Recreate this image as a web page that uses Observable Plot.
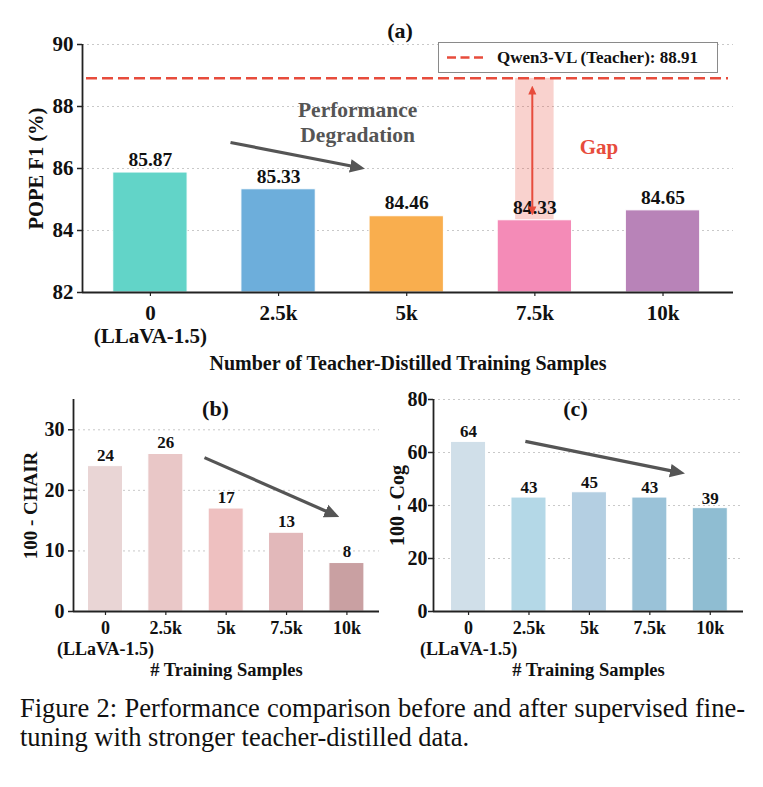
<!DOCTYPE html>
<html>
<head>
<meta charset="utf-8">
<script src="https://cdn.jsdelivr.net/npm/d3@7"></script>
<script src="https://cdn.jsdelivr.net/npm/@observablehq/plot@0.6"></script>
<style>
  html, body { margin: 0; padding: 0; background: #fff; }
  #root { position: relative; width: 763px; height: 787px; overflow: hidden; font-family: "Liberation Serif", "Times New Roman", serif; }
  .panel { position: absolute; }
  .legend { position: absolute; left: 438px; top: 42px; width: 280px; height: 31px; box-sizing: border-box; border: 1.3px solid #8a8a8a; background: #fff; }
  .legend svg { position: absolute; left: 7px; top: 0; }
  .legend span { position: absolute; left: 58px; top: 0; line-height: 29px; font-weight: bold; font-size: 17px; color: #111; white-space: nowrap; }
  .caption { position: absolute; left: 20px; top: 694px; width: 725px; font-size: 26.5px; line-height: 29px; color: #111; }
  .caption .l1 { text-align: justify; text-align-last: justify; white-space: nowrap; }
</style>
</head>
<body>
<div id="root"></div>
<script>
// ---------- data ----------
const categories = ["0", "2.5k", "5k", "7.5k", "10k"];
const tickLabels = ["0\n(LLaVA-1.5)", "2.5k", "5k", "7.5k", "10k"];
const popeF1 = [85.87, 85.33, 84.46, 84.33, 84.65];
const popeColors = ["#62d4c8", "#6daedb", "#f9ae4e", "#f48bb7", "#b883b8"];
const teacherF1 = 88.91;
const teacherLabel = "Qwen3-VL (Teacher): 88.91";
const chair = [24, 26, 17, 13, 8];
const chairColors = ["#e9d5d5", "#e9c7c7", "#eec0c0", "#e2b8ba", "#c9a0a2"];
const cog = [64, 43, 45, 43, 39];
const cogColors = ["#d0dfe9", "#b4d8e7", "#b4cfe2", "#9ac2d8", "#8fbdd2"];
const popeTicks = [82, 84, 86, 88, 90];
const chairTicks = [0, 10, 20, 30];
const cogTicks = [0, 20, 40, 60, 80];
const captionLines = [
  "Figure 2: Performance comparison before and after supervised fine-",
  "tuning with stronger teacher-distilled data."
];

// ---------- helpers ----------
const idx = d3.range(categories.length);
const half = 0.29;
const font = '"Liberation Serif", "Times New Roman", serif';
const RED = "#e74c3c";
const GRAY = "#555555";

function triMarker(size) {
  return (color) => d3.create("svg:marker")
    .attr("viewBox", "-5 -5 10 10")
    .attr("markerUnits", "userSpaceOnUse")
    .attr("markerWidth", size).attr("markerHeight", size)
    .attr("orient", "auto-start-reverse")
    .attr("fill", color).attr("stroke", "none")
    .call(m => m.append("path").attr("d", "M-5,-4.5L5,0L-5,4.5Z"))
    .node();
}

function barPanel(o) {
  const rows = idx.map(i => ({i, v: o.values[i], c: o.colors[i], base: o.yDomain[0]}));
  return Plot.plot({
    width: o.width, height: o.height,
    marginLeft: o.ml, marginRight: o.mr, marginTop: o.mt, marginBottom: o.mb,
    style: {fontFamily: font, fontWeight: "bold", fontSize: o.xTickFont + "px", color: "#111", background: "transparent", overflow: "visible"},
    x: {domain: o.xDomain},
    y: {domain: o.yDomain},
    marks: [
      Plot.gridY(o.yTicks.slice(1), {stroke: "#bbbbbb", strokeOpacity: 0.8, strokeDasharray: "2,3", strokeWidth: 1}),
      ...(o.under || []),
      Plot.rect(rows, {x1: d => d.i - half, x2: d => d.i + half, y1: "base", y2: "v", fill: "c", stroke: "#ffffff", strokeWidth: 1}),
      Plot.text(rows, {x: "i", y: "v", text: d => o.fmt(d.v), dy: -o.labelGap, lineAnchor: "middle", fontSize: o.labelFont, fontWeight: "bold", fill: "#111"}),
      ...(o.over || []),
      Plot.ruleY([o.yDomain[0]], {stroke: "#222", strokeWidth: 1.8}),
      Plot.ruleX([o.xDomain[0]], {stroke: "#222", strokeWidth: 1.8}),
      Plot.axisY({ticks: o.yTicks, tickSize: 5, tickPadding: o.yPad, fontSize: o.yTickFont, stroke: "#222", strokeWidth: 1.5, label: null}),
      Plot.axisX({ticks: idx, tickFormat: i => o.tickLabels[i], tickSize: 4, tickPadding: o.xPad, fontSize: o.xTickFont, lineHeight: o.lh, stroke: "#222", strokeWidth: 1.2, label: null}),
      Plot.text([o.xTitle], {frameAnchor: "bottom", dy: o.xTitleDy, lineAnchor: "middle", fontSize: o.xTitleFont, fontWeight: "bold", fill: "#111"}),
      Plot.text([o.yTitle], {frameAnchor: "left", rotate: -90, dx: o.yTitleDx, textAnchor: "middle", lineAnchor: "middle", fontSize: o.yTitleFont, fontWeight: "bold", fill: "#111"}),
      Plot.text([o.panelTitle], {frameAnchor: "top", dx: o.ptDx, dy: o.ptDy, lineAnchor: "middle", fontSize: o.ptFont, fontWeight: "bold", fill: "#111"})
    ]
  });
}

const root = document.getElementById("root");
function place(node, left, top) {
  const d = document.createElement("div");
  d.className = "panel";
  d.style.left = left + "px"; d.style.top = top + "px";
  d.appendChild(node);
  root.appendChild(d);
}

// ---------- panel (a) ----------
const gapI = 3;
const panelA = barPanel({
  width: 763, height: 385, ml: 82, mr: 30, mt: 44, mb: 93,
  xDomain: [-0.53, 4.55], yDomain: [82, 90], yTicks: popeTicks,
  values: popeF1, colors: popeColors, tickLabels,
  fmt: d3.format(".2f"), labelFont: 19.5, labelGap: 13, xTickFont: 21, yTickFont: 21,
  yPad: 4, xPad: 7, lh: 1.1,
  xTitle: "Number of Teacher-Distilled Training Samples", xTitleDy: 71, xTitleFont: 20,
  yTitle: "POPE F1 (%)", yTitleDx: -46, yTitleFont: 20.5,
  panelTitle: "(a)", ptDx: -8, ptDy: -14, ptFont: 22,
  under: [
    Plot.rect([{x1: gapI - 0.15, x2: gapI + 0.15, y1: popeF1[gapI], y2: teacherF1}], {x1: "x1", x2: "x2", y1: "y1", y2: "y2", fill: RED, fillOpacity: 0.25})
  ],
  over: [
    Plot.ruleY([teacherF1], {stroke: RED, strokeWidth: 2.5, strokeDasharray: "11,5", insetLeft: 4, insetRight: 5}),
    Plot.link([{x1: gapI - 0.02, y1: popeF1[gapI] + 0.3, x2: gapI - 0.02, y2: teacherF1 - 0.38}],
      {x1: "x1", y1: "y1", x2: "x2", y2: "y2", stroke: RED, strokeWidth: 2, markerStart: triMarker(9), markerEnd: triMarker(9)}),
    Plot.link([{x1: 0.625, y1: 86.84, x2: 1.617, y2: 86.04}],
      {x1: "x1", y1: "y1", x2: "x2", y2: "y2", stroke: GRAY, strokeWidth: 3.2, markerEnd: triMarker(15)}),
    Plot.text(["Performance\nDegradation"], {x: 1.617, y: 87.52, lineAnchor: "middle", lineHeight: 1.17, fontSize: 21.5, fontWeight: "bold", fill: GRAY}),
    Plot.text(["Gap"], {x: 3.5, y: 86.7, lineAnchor: "middle", fontSize: 21, fontWeight: "bold", fill: RED})
  ]
});
place(panelA, 0, 0);

// legend (a)
const leg = document.createElement("div");
leg.className = "legend";
leg.innerHTML = `<svg width="44" height="29"><line x1="1" x2="37" y1="14.5" y2="14.5" stroke="${RED}" stroke-width="2.5" stroke-dasharray="9,4.5"/></svg><span>${teacherLabel}</span>`;
root.appendChild(leg);

// ---------- panel (b) ----------
const panelB = barPanel({
  width: 385, height: 305, ml: 73, mr: 6, mt: 19, mb: 74,
  xDomain: [-0.53, 4.54], yDomain: [0, 35], yTicks: chairTicks,
  values: chair, colors: chairColors, tickLabels,
  fmt: d => String(d), labelFont: 17, labelGap: 11, xTickFont: 18, yTickFont: 20,
  yPad: 4, xPad: 4, lh: 1.15,
  xTitle: "# Training Samples", xTitleDy: 59, xTitleFont: 18.5,
  yTitle: "100 - CHAIR", yTitleDx: -43, yTitleFont: 19,
  panelTitle: "(b)", ptDx: -11, ptDy: 9, ptFont: 22,
  over: [
    Plot.link([{x1: 1.64, y1: 25.4, x2: 3.76, y2: 16.1}],
      {x1: "x1", y1: "y1", x2: "x2", y2: "y2", stroke: GRAY, strokeWidth: 3.2, markerEnd: triMarker(15)})
  ]
});
place(panelB, 0, 380);

// ---------- panel (c) ----------
const panelC = barPanel({
  width: 378, height: 305, ml: 48, mr: 20, mt: 19, mb: 74,
  xDomain: [-0.58, 4.55], yDomain: [0, 80], yTicks: cogTicks,
  values: cog, colors: cogColors, tickLabels,
  fmt: d => String(d), labelFont: 17, labelGap: 10, xTickFont: 18, yTickFont: 20,
  yPad: 1, xPad: 4, lh: 1.15,
  xTitle: "# Training Samples", xTitleDy: 59, xTitleFont: 18.5,
  yTitle: "100 - Cog", yTitleDx: -36, yTitleFont: 20,
  panelTitle: "(c)", ptDx: -13, ptDy: 9, ptFont: 22,
  over: [
    Plot.link([{x1: 0.94, y1: 64.2, x2: 3.46, y2: 52.6}],
      {x1: "x1", y1: "y1", x2: "x2", y2: "y2", stroke: GRAY, strokeWidth: 3.2, markerEnd: triMarker(15)})
  ]
});
place(panelC, 385, 380);

// ---------- caption ----------
const cap = document.createElement("div");
cap.className = "caption";
cap.innerHTML = `<div class="l1">${captionLines[0]}</div><div>${captionLines[1]}</div>`;
root.appendChild(cap);
</script>
</body>
</html>
